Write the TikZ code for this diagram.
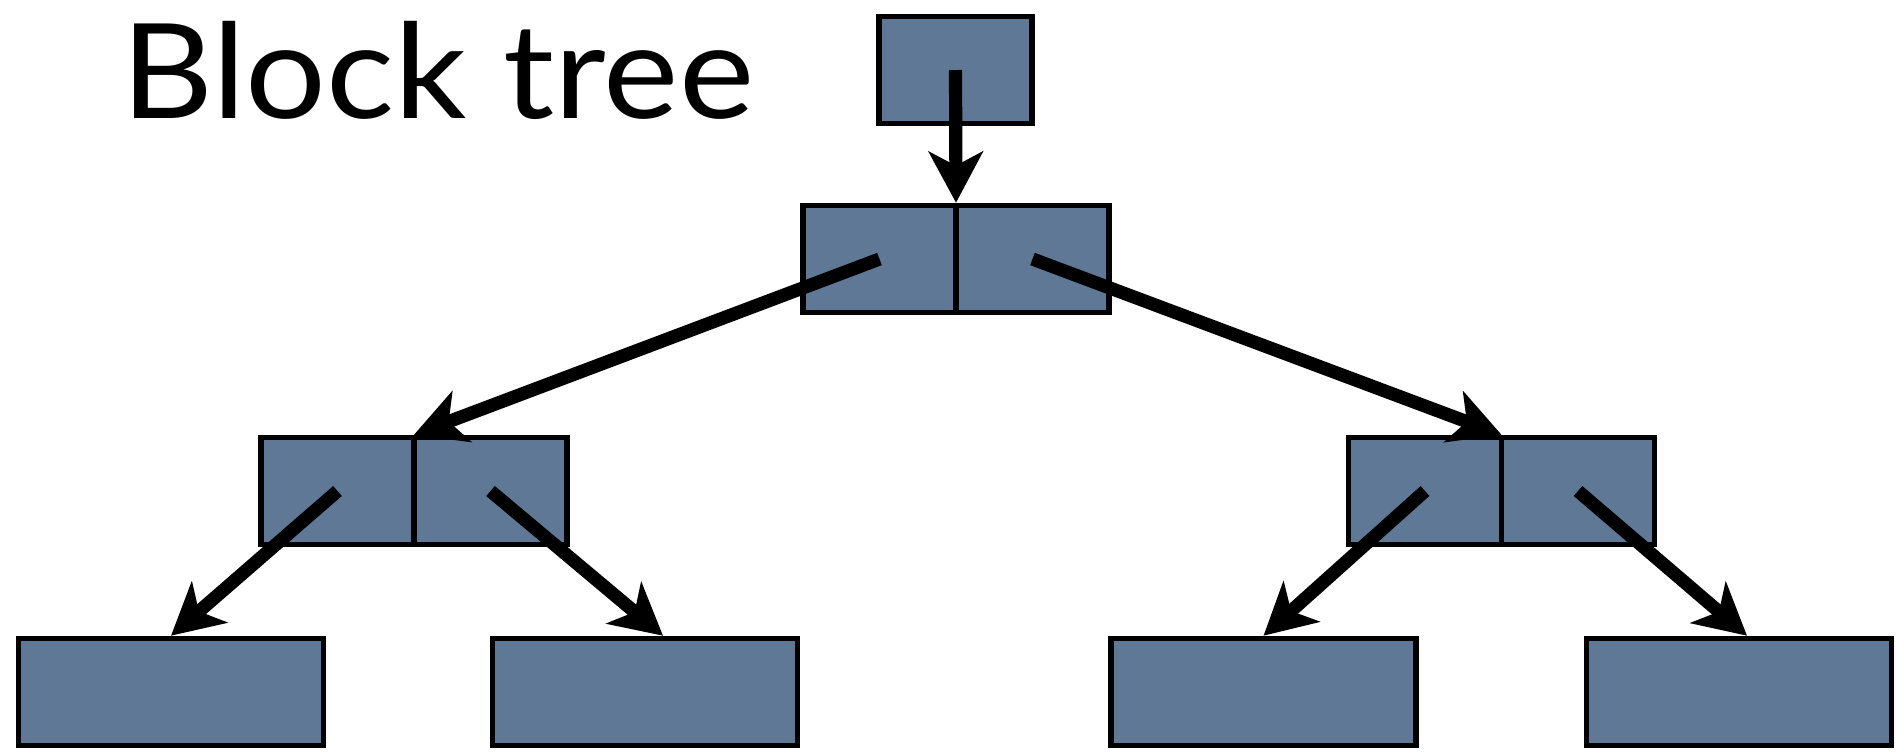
\documentclass[tikz,border=0pt]{standalone}
\usepackage{fontspec}
\setmainfont{Lato}
\usetikzlibrary{arrows.meta,calc}
\definecolor{slate}{RGB}{94,120,150}
\begin{document}
\begin{tikzpicture}[x=0.5pt,y=-0.5pt,
  cell/.style={draw=black, fill=slate, line width=2.8pt, minimum height=53.5pt,
    inner sep=0pt, outer sep=0pt},
  half/.style={cell, minimum width=76.5pt},
  leaf/.style={cell, minimum width=152.5pt},
  link/.style={line width=6.6pt, -{Stealth[length=25.5pt,width=27pt,inset=7pt]}}]
\useasboundingbox (0,0) rectangle (1896,752);

% title
\node[anchor=base west, inner sep=0pt, font=\fontsize{66}{66}\selectfont] (title) at (121,118)
  {\scalebox{1.08}[1]{Block tree}};

% root block
\node[half] (top) at (955.5,70) {};

% second level: one block split in two
\node[half] (mL) at (879.5,259) {};
\node[half] (mR) at (1032.5,259) {};

% third level
\node[half] (lL) at (337.5,491) {};
\node[half] (lR) at (490.5,491) {};
\node[half] (rL) at (1425,491) {};
\node[half] (rR) at (1578,491) {};

% leaves
\node[leaf] (b1) at (171,692) {};
\node[leaf] (b2) at (645,692) {};
\node[leaf] (b3) at (1263.5,692) {};
\node[leaf] (b4) at (1739,692) {};

% pointers
\draw[link] (top.center) -- ([yshift=1.4pt]mL.north east);
\draw[link] (mL.center) -- ([yshift=1.4pt]lL.north east);
\draw[link] (mR.center) -- ([yshift=1.4pt]rL.north east);
\draw[link] (lL.center) -- ([yshift=1.4pt]b1.north);
\draw[link] (lR.center) -- ([xshift=9pt,yshift=1.4pt]b2.north);
\draw[link] (rL.center) -- ([yshift=1.4pt]b3.north);
\draw[link] (rR.center) -- ([xshift=4pt,yshift=1.4pt]b4.north);
\end{tikzpicture}
\end{document}
